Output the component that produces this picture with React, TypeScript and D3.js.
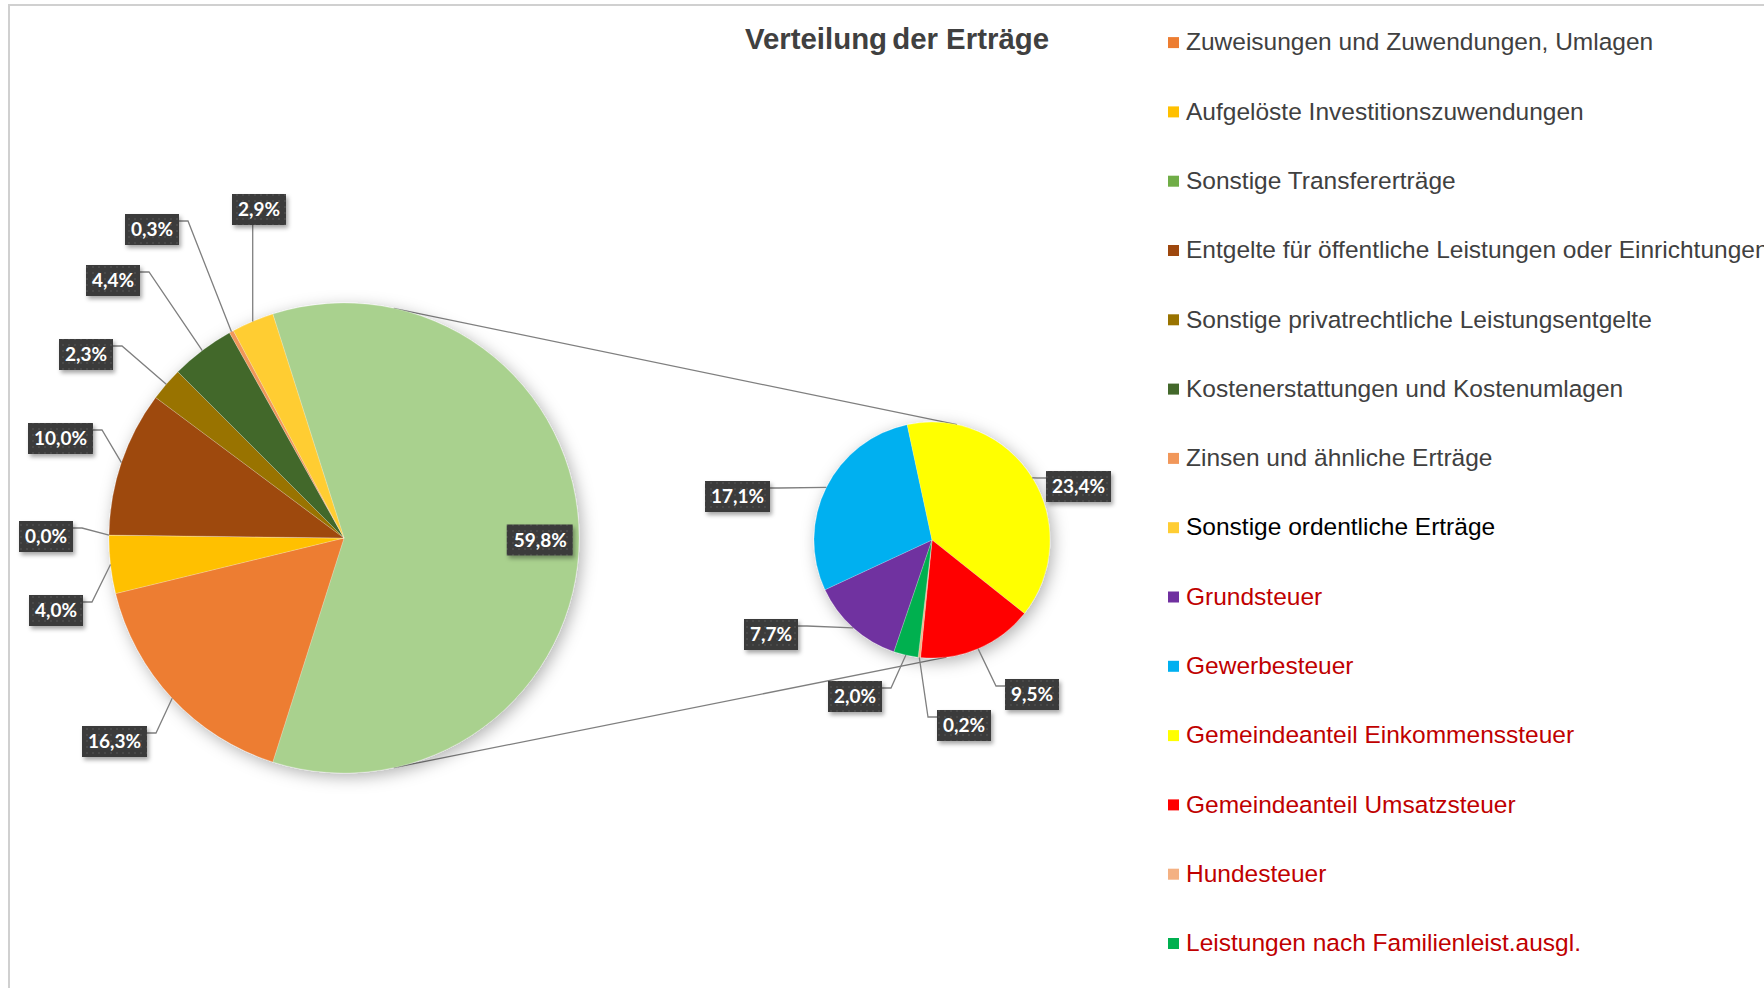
import React, { useEffect } from "react";
import * as d3 from "d3";

// ---------- DATA ----------
const mainCategories = [
  "Zuweisungen und Zuwendungen, Umlagen",
  "Aufgelöste Investitionszuwendungen",
  "Sonstige Transfererträge",
  "Entgelte für öffentliche Leistungen oder Einrichtungen",
  "Sonstige privatrechtliche Leistungsentgelte",
  "Kostenerstattungen und Kostenumlagen",
  "Zinsen und ähnliche Erträge",
  "Sonstige ordentliche Erträge",
];
const mainValues = [16.3, 4.0, 0.0, 10.0, 2.3, 4.4, 0.3, 2.9];
const otherValue = 59.8;

const secCategories = [
  "Grundsteuer",
  "Gewerbesteuer",
  "Gemeindeanteil Einkommenssteuer",
  "Gemeindeanteil Umsatzsteuer",
  "Hundesteuer",
  "Leistungen nach Familienleist.ausgl.",
];
const secValues = [7.7, 17.1, 23.4, 9.5, 0.2, 2.0];

// ---------- STYLES / LAYOUT ----------
const mainColors = ["#ED7D31", "#FFC000", "#70AD47", "#9E480E", "#997300", "#43682B", "#F1975A", "#FFCD33"];
const otherColor = "#A9D18E";
const secColors = ["#7030A0", "#00B0F0", "#FFFF00", "#FF0000", "#F4B183", "#00B050"];
const mainLegendText = ["#404040", "#404040", "#404040", "#404040", "#404040", "#404040", "#404040", "#000000"];
const secLegendText = "#C00000";

const W = 1764;
const H = 988;
const mainCx = 344, mainCy = 538, mainR = 235;
const secCx = 932, secCy = 540, secR = 118;
const secStartDeg = -161.2;
const connMainDeg = [12.2, 167.8];
const connSecDeg = [12.2, 173];

type LP = { x: number; y: number; side: "left" | "right" | "bottom" };
const LY = 3;
const mainLabelPos: LP[] = [
  { x: 82, y: 723 + LY, side: "right" },
  { x: 29, y: 592 + LY, side: "right" },
  { x: 19, y: 518 + LY, side: "right" },
  { x: 28, y: 420 + LY, side: "right" },
  { x: 59, y: 336 + LY, side: "right" },
  { x: 86, y: 262 + LY, side: "right" },
  { x: 125, y: 211 + LY, side: "right" },
  { x: 232, y: 191 + LY, side: "bottom" },
];
const secLabelPos: LP[] = [
  { x: 744, y: 616 + LY, side: "right" },
  { x: 705, y: 478 + LY, side: "right" },
  { x: 1046, y: 468 + LY, side: "left" },
  { x: 1005, y: 676 + LY, side: "left" },
  { x: 937, y: 707 + LY, side: "left" },
  { x: 828, y: 678 + LY, side: "right" },
];

const legendX = 1168;
const legendY0 = 41.6;
const legendStep = 69.3;

const fmt = (v: number) => v.toFixed(1).replace(".", ",") + "%";
const boxW = (s: string) => 11 * s.length + 10;
const BOX_H = 31;
const LABEL_FS = 19;
const rad = (d: number) => (d * Math.PI) / 180;

function edgePoint(cx: number, cy: number, r: number, a: number) {
  return [cx + r * Math.sin(a), cy - r * Math.cos(a)];
}

function Label({ text, pos, target }: { text: string; pos: LP; target: number[] }) {
  const w = boxW(text);
  let path = "";
  if (pos.side === "right") {
    const ax = pos.x + w, ay = pos.y + 7;
    path = `M${ax},${ay}L${ax + 9},${ay}L${target[0]},${target[1]}`;
  } else if (pos.side === "left") {
    const ax = pos.x, ay = pos.y + 7;
    path = `M${ax},${ay}L${ax - 9},${ay}L${target[0]},${target[1]}`;
  } else {
    path = `M${target[0]},${pos.y + BOX_H}L${target[0]},${target[1]}`;
  }
  return (
    <g>
      <path d={path} fill="none" stroke="#7f7f7f" strokeWidth={1.3} />
      <rect x={pos.x} y={pos.y} width={w} height={BOX_H} fill="url(#dots)" filter="url(#boxShadow)" />
      <text
        x={pos.x + w / 2}
        y={pos.y + BOX_H / 2 + 6.8}
        textAnchor="middle"
        fill="#ffffff"
        fontFamily="Lato, 'Open Sans', sans-serif"
        fontWeight={700}
        fontSize={LABEL_FS}
      >
        {text}
      </text>
    </g>
  );
}

export default function App() {
  useEffect(() => {
    document.body.style.margin = "0";
  }, []);

  const total = otherValue + d3.sum(mainValues);
  const otherFrac = otherValue / total;
  const mainStart = Math.PI / 2 - otherFrac * Math.PI;

  const mainData = [otherValue, ...mainValues];
  const mainArcs = d3
    .pie<number>()
    .sort(null)
    .value((d) => d)
    .startAngle(mainStart)
    .endAngle(mainStart + 2 * Math.PI)(mainData);

  const secArcs = d3
    .pie<number>()
    .sort(null)
    .value((d) => d)
    .startAngle(rad(secStartDeg))
    .endAngle(rad(secStartDeg) + 2 * Math.PI)(secValues);

  const mainArcGen = d3.arc<d3.PieArcDatum<number>>().innerRadius(0).outerRadius(mainR);
  const secArcGen = d3.arc<d3.PieArcDatum<number>>().innerRadius(0).outerRadius(secR);

  const mid = (a: d3.PieArcDatum<number>) => (a.startAngle + a.endAngle) / 2;

  const conn = [0, 1].map((i) => {
    const p1 = edgePoint(mainCx, mainCy, mainR, rad(connMainDeg[i]));
    const p2 = edgePoint(secCx, secCy, secR, rad(connSecDeg[i]));
    return { p1, p2 };
  });

  const otherArc = mainArcs[0];
  const otherMid = mid(otherArc);
  const otherLabelPt = edgePoint(mainCx, mainCy, mainR * 0.835, otherMid);
  const otherText = fmt(otherValue);

  const legendItems = [
    ...mainCategories.map((c, i) => ({ name: c, color: mainColors[i], text: mainLegendText[i] })),
    ...secCategories.map((c) => ({ name: c, color: secColors[secCategories.indexOf(c)], text: secLegendText })),
  ];

  return (
    <svg width={W} height={H} style={{ display: "block", background: "#fff" }}>
      <defs>
        <pattern id="dots" width="6" height="6" patternUnits="userSpaceOnUse">
          <rect width="6" height="6" fill="#3a3a3a" />
          <circle cx="3" cy="3" r="0.9" fill="#4e4e4e" />
        </pattern>
        <filter id="boxShadow" x="-20%" y="-30%" width="150%" height="180%">
          <feDropShadow dx="2" dy="3" stdDeviation="2" floodColor="#000" floodOpacity="0.35" />
        </filter>
        <filter id="pieShadow" x="-20%" y="-20%" width="140%" height="140%">
          <feDropShadow dx="3" dy="4" stdDeviation="8" floodColor="#000" floodOpacity="0.3" />
        </filter>
      </defs>

      {/* frame */}
      <rect x={9} y={5} width={W + 20} height={H + 20} fill="#fff" stroke="#d0d0d0" strokeWidth={2} />

      {/* title */}
      <text
        x={897}
        y={48.5}
        textAnchor="middle"
        fill="#404040"
        fontFamily="'Liberation Sans', Arial, sans-serif"
        fontWeight={700}
        fontSize={29.4}
      >
        <tspan>Verteilung</tspan>
        <tspan dx={-3}> der Erträge</tspan>
      </text>

      {/* connector lines */}
      {conn.map((c, i) => (
        <line key={i} x1={c.p1[0]} y1={c.p1[1]} x2={c.p2[0]} y2={c.p2[1]} stroke="#7f7f7f" strokeWidth={1.3} />
      ))}

      {/* main pie */}
      <g transform={`translate(${mainCx},${mainCy})`} filter="url(#pieShadow)">
        {mainArcs.map((a, i) => (
          <path
            key={i}
            d={mainArcGen(a) || ""}
            fill={i === 0 ? otherColor : mainColors[i - 1]}
            stroke="#ffffff"
            strokeOpacity={0.35}
            strokeWidth={0.6}
          />
        ))}
      </g>

      {/* secondary pie */}
      <g transform={`translate(${secCx},${secCy})`} filter="url(#pieShadow)">
        {secArcs.map((a, i) => (
          <path key={i} d={secArcGen(a) || ""} fill={secColors[i]} stroke="#ffffff" strokeOpacity={0.35} strokeWidth={0.6} />
        ))}
      </g>

      {/* main labels */}
      {mainArcs.slice(1).map((a, i) => (
        <Label key={i} text={fmt(mainValues[i])} pos={mainLabelPos[i]} target={edgePoint(mainCx, mainCy, mainR, mid(a))} />
      ))}
      <g>
        <rect
          x={otherLabelPt[0] - boxW(otherText) / 2 - 1}
          y={otherLabelPt[1] - BOX_H / 2 + 2}
          width={boxW(otherText) + 1}
          height={BOX_H}
          fill="url(#dots)"
          filter="url(#boxShadow)"
        />
        <text
          x={otherLabelPt[0]}
          y={otherLabelPt[1] + 8.8}
          textAnchor="middle"
          fill="#fff"
          fontFamily="Lato, 'Open Sans', sans-serif"
          fontWeight={700}
          fontSize={LABEL_FS}
        >
          {otherText}
        </text>
      </g>

      {/* secondary labels */}
      {secArcs.map((a, i) => (
        <Label key={i} text={fmt(secValues[i])} pos={secLabelPos[i]} target={edgePoint(secCx, secCy, secR, mid(a))} />
      ))}

      {/* legend */}
      {legendItems.map((it, i) => {
        const yc = legendY0 + i * legendStep;
        return (
          <g key={i}>
            <rect x={legendX} y={yc - 4.5} width={11} height={11} fill={it.color} />
            <text
              x={legendX + 18}
              y={yc + 8.7}
              fill={it.text}
              fontFamily="'Liberation Sans', Arial, sans-serif"
              fontSize={24.5}
            >
              {it.name}
            </text>
          </g>
        );
      })}
    </svg>
  );
}
